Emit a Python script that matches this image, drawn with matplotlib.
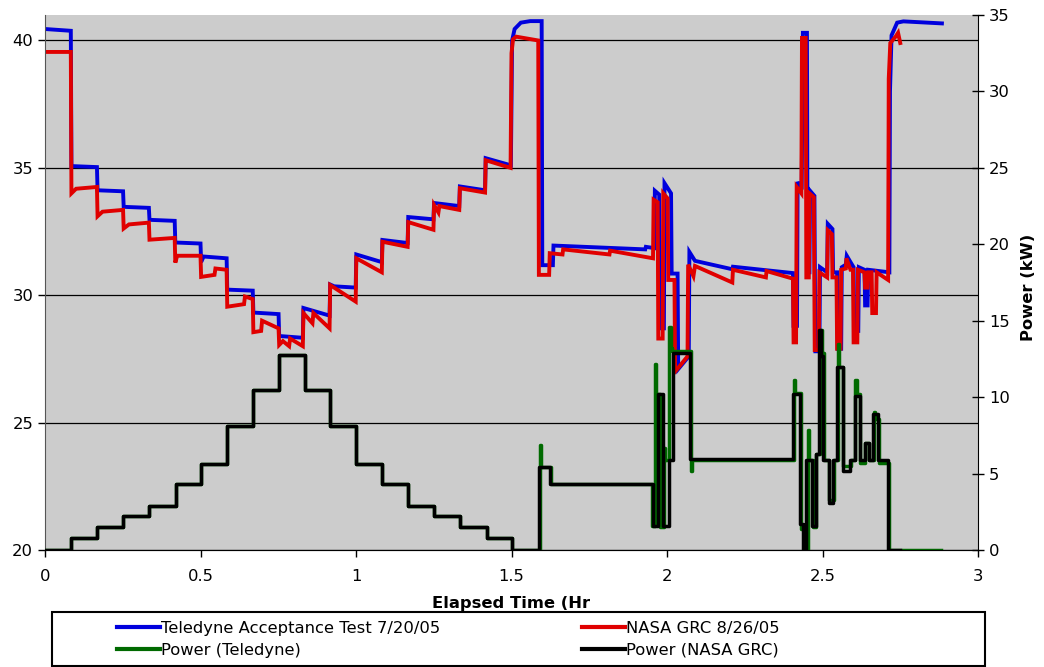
import matplotlib
matplotlib.use("Agg")
import matplotlib.pyplot as plt
from matplotlib.lines import Line2D
from matplotlib.patches import Rectangle

# Teledyne acceptance test voltage (left axis)
tele_t = [0.000, 0.083, 0.085, 0.167, 0.169, 0.251, 0.253, 0.334, 0.336, 0.417,
          0.419, 0.500, 0.502, 0.510, 0.584, 0.586, 0.668, 0.670, 0.751, 0.753,
          0.829, 0.831, 0.915, 0.917, 0.930, 0.999, 1.001, 1.083, 1.085, 1.166,
          1.168, 1.249, 1.251, 1.332, 1.334, 1.415, 1.417, 1.498, 1.502, 1.510,
          1.530, 1.560, 1.597, 1.599, 1.633, 1.635, 1.930, 1.932, 1.959, 1.961,
          1.975, 1.977, 1.990, 1.992, 2.013, 2.015, 2.034, 2.036, 2.070, 2.072,
          2.090, 2.210, 2.212, 2.405, 2.407, 2.418, 2.420, 2.433, 2.437, 2.450,
          2.452, 2.458, 2.460, 2.474, 2.477, 2.490, 2.492, 2.515, 2.517, 2.532,
          2.534, 2.547, 2.549, 2.560, 2.562, 2.575, 2.578, 2.590, 2.600, 2.602,
          2.615, 2.617, 2.635, 2.637, 2.645, 2.647, 2.715, 2.717, 2.722, 2.740,
          2.760, 2.884]
tele_v = [40.45, 40.38, 35.07, 35.03, 34.12, 34.08, 33.47, 33.43, 32.96, 32.92,
          32.07, 32.03, 31.30, 31.52, 31.45, 30.22, 30.18, 29.32, 29.26, 28.40,
          28.33, 29.50, 29.20, 30.42, 30.35, 30.30, 31.60, 31.30, 32.17, 32.05,
          33.07, 32.98, 33.62, 33.50, 34.27, 34.12, 35.38, 35.10, 40.00, 40.45,
          40.70, 40.76, 40.76, 31.18, 31.18, 31.95, 31.80, 31.90, 31.85, 34.10,
          33.95, 28.70, 28.70, 34.40, 34.00, 30.85, 30.85, 27.10, 27.60, 31.70,
          31.35, 31.02, 31.12, 30.87, 28.80, 28.80, 34.45, 34.15, 40.30, 40.30,
          30.90, 30.90, 34.10, 33.90, 27.80, 27.80, 31.10, 30.90, 32.80, 32.60,
          30.90, 30.90, 27.90, 27.90, 31.10, 31.20, 31.55, 31.30, 31.10, 28.60,
          28.60, 31.10, 31.00, 29.60, 29.60, 31.00, 30.90, 38.00, 40.20, 40.70,
          40.75, 40.67]

# NASA GRC voltage (left axis)
nasa_t = [0.000, 0.083, 0.085, 0.100, 0.167, 0.169, 0.185, 0.251, 0.253, 0.270,
          0.334, 0.336, 0.417, 0.419, 0.425, 0.500, 0.502, 0.545, 0.548, 0.584,
          0.586, 0.640, 0.643, 0.668, 0.670, 0.695, 0.698, 0.751, 0.753, 0.765,
          0.785, 0.788, 0.829, 0.831, 0.860, 0.863, 0.915, 0.917, 0.999, 1.001,
          1.083, 1.085, 1.166, 1.168, 1.249, 1.251, 1.265, 1.268, 1.332, 1.334,
          1.415, 1.417, 1.497, 1.500, 1.505, 1.515, 1.586, 1.588, 1.621, 1.623,
          1.664, 1.666, 1.815, 1.817, 1.955, 1.957, 1.970, 1.972, 1.986, 1.988,
          2.002, 2.004, 2.024, 2.026, 2.066, 2.068, 2.085, 2.090, 2.210, 2.212,
          2.318, 2.320, 2.405, 2.407, 2.415, 2.417, 2.432, 2.434, 2.446, 2.448,
          2.456, 2.458, 2.472, 2.475, 2.488, 2.490, 2.515, 2.517, 2.530, 2.532,
          2.545, 2.547, 2.558, 2.560, 2.575, 2.577, 2.590, 2.598, 2.600, 2.612,
          2.614, 2.635, 2.637, 2.645, 2.647, 2.658, 2.660, 2.672, 2.674, 2.711,
          2.713, 2.718, 2.735, 2.743, 2.750]
nasa_v = [39.55, 39.55, 34.00, 34.18, 34.25, 33.10, 33.28, 33.35, 32.62, 32.78,
          32.85, 32.18, 32.25, 31.28, 31.55, 31.55, 30.72, 30.80, 31.05, 31.00,
          29.55, 29.65, 29.95, 29.85, 28.55, 28.60, 29.00, 28.70, 28.05, 28.20,
          28.00, 28.30, 28.00, 29.30, 28.90, 29.30, 28.70, 30.40, 29.75, 31.45,
          30.90, 32.10, 31.90, 32.87, 32.57, 33.54, 33.25, 33.50, 33.35, 34.20,
          34.03, 35.30, 35.00, 39.50, 40.05, 40.15, 40.00, 30.80, 30.80, 31.65,
          31.60, 31.80, 31.60, 31.75, 31.45, 33.75, 33.65, 28.30, 28.30, 34.00,
          33.80, 30.60, 30.60, 27.00, 27.60, 31.20, 30.75, 31.15, 30.50, 31.00,
          30.70, 30.95, 30.65, 28.15, 28.15, 34.25, 34.00, 40.10, 40.10, 30.70,
          30.70, 34.00, 33.85, 27.85, 27.85, 30.90, 30.70, 32.55, 32.40, 30.70,
          30.70, 27.90, 27.90, 31.00, 31.05, 31.45, 31.00, 31.00, 28.15, 28.15,
          31.00, 30.90, 30.30, 30.30, 30.90, 30.90, 29.30, 29.30, 30.90, 30.60,
          38.50, 39.90, 40.15, 40.30, 39.90]

# power, step levels (right axis)
tele_pt = [0.0, 0.085, 0.167, 0.25, 0.335, 0.42, 0.5, 0.585, 0.67, 0.752,
           0.836, 0.917, 1.0, 1.085, 1.167, 1.25, 1.335, 1.42, 1.5, 1.592,
           1.595, 1.626, 1.952, 1.962, 1.965, 1.976, 1.99, 1.994, 2.008, 2.012,
           2.016, 2.078, 2.081, 2.407, 2.41, 2.431, 2.45, 2.453, 2.457, 2.47,
           2.48, 2.492, 2.497, 2.505, 2.522, 2.537, 2.55, 2.554, 2.567, 2.592,
           2.606, 2.61, 2.622, 2.638, 2.65, 2.665, 2.668, 2.683, 2.714, 2.88]
tele_p = [0, 0.8, 1.5, 2.2, 2.9, 4.3, 5.6, 8.1, 10.5, 12.75,
          10.5, 8.1, 5.6, 4.3, 2.9, 2.2, 1.5, 0.8, 0, 6.9,
          5.4, 4.3, 1.6, 12.2, 10.2, 1.5, 6.7, 5.9, 14.6, 13.2,
          13.0, 5.2, 5.9, 11.1, 10.3, 1.4, 0, 7.85, 5.9, 1.5,
          6.3, 14.4, 12.9, 5.9, 3.3, 5.9, 13.5, 12.0, 5.5, 5.9,
          11.1, 10.2, 5.7, 7.0, 5.9, 9.0, 8.6, 5.7, 0, 0]

nasa_pt = [0.0, 0.085, 0.167, 0.25, 0.335, 0.42, 0.5, 0.585, 0.67, 0.752,
           0.836, 0.917, 1.0, 1.085, 1.167, 1.25, 1.335, 1.42, 1.5, 1.589,
           1.624, 1.955, 1.972, 1.988, 2.008, 2.02, 2.074, 2.405, 2.428, 2.437,
           2.447, 2.466, 2.478, 2.49, 2.495, 2.502, 2.52, 2.535, 2.548, 2.565,
           2.59, 2.604, 2.62, 2.636, 2.648, 2.663, 2.68, 2.711, 2.75]
nasa_p = [0, 0.8, 1.5, 2.2, 2.9, 4.3, 5.6, 8.1, 10.5, 12.75,
          10.5, 8.1, 5.6, 4.3, 2.9, 2.2, 1.5, 0.8, 0, 5.4,
          4.3, 1.6, 10.2, 1.6, 5.9, 12.9, 5.95, 10.2, 1.7, 0,
          5.9, 1.6, 6.3, 14.4, 12.7, 5.9, 3.1, 5.9, 12.0, 5.2,
          5.9, 10.1, 5.9, 7.0, 5.9, 8.9, 5.9, 0, 0]

labels = ["Teledyne Acceptance Test 7/20/05", "NASA GRC 8/26/05",
          "Power (Teledyne)", "Power (NASA GRC)"]
colors = ["#0000dd", "#e00000", "#006a00", "black"]

fs = 11.8
fig = plt.figure(figsize=(10.44, 6.67), dpi=100)
ax = fig.add_axes([45 / 1044, 1 - 550 / 667, 933 / 1044, 535 / 667])
ax.set_facecolor("#cccccc")

ax.plot(tele_t, tele_v, color=colors[0], lw=2.8, solid_joinstyle="miter")
ax.plot(nasa_t, nasa_v, color=colors[1], lw=2.8, solid_joinstyle="miter")

ax.set_xlim(0, 3)
ax.set_ylim(20, 41)
ax.set_xticks([0, 0.5, 1, 1.5, 2, 2.5, 3])
ax.set_xticklabels(["0", "0.5", "1", "1.5", "2", "2.5", "3"])
ax.set_yticks([20, 25, 30, 35, 40])
ax.yaxis.grid(True, color="black", lw=0.9)
ax.tick_params(labelsize=fs, direction="out", length=5, width=1)
ax.tick_params(axis="x", pad=9)
for s in ["top", "right"]:
    ax.spines[s].set_visible(False)
ax.spines["left"].set_color("#555555")
ax.spines["bottom"].set_color("#555555")
ax.set_xlabel("Elapsed Time (Hr", fontsize=fs, fontweight="bold", labelpad=8)

ax2 = ax.twinx()
ax2.step(tele_pt, tele_p, where="post", color=colors[2], lw=2.5)
ax2.step(nasa_pt, nasa_p, where="post", color=colors[3], lw=2.5)
ax2.set_ylim(0, 35)
ax2.set_yticks(range(0, 36, 5))
ax2.tick_params(labelsize=fs, direction="inout", length=9, width=1)
ax2.spines["top"].set_visible(False)
ax2.spines["left"].set_visible(False)
ax2.set_ylabel("Power (kW)", fontsize=fs, fontweight="bold")
ax2.yaxis.set_label_coords(1.046, 0.49)

handles = [Line2D([], [], color=c, lw=3) for c in colors]
kw = dict(frameon=False, fontsize=fs, handlelength=2.6, handletextpad=0.1,
          labelspacing=0.42, borderpad=0, borderaxespad=0, loc="upper left")
fig.legend([handles[0], handles[2]], [labels[0], labels[2]],
           bbox_to_anchor=(117 / 1044, 1 - 621 / 667), **kw)
fig.legend([handles[1], handles[3]], [labels[1], labels[3]],
           bbox_to_anchor=(582 / 1044, 1 - 621 / 667), **kw)
fig.patches.append(Rectangle((52 / 1044, 1 - 666 / 667), 933 / 1044, 54 / 667,
                             transform=fig.transFigure, fill=False,
                             edgecolor="black", lw=1.5))

fig.savefig("out.png", dpi=100)
